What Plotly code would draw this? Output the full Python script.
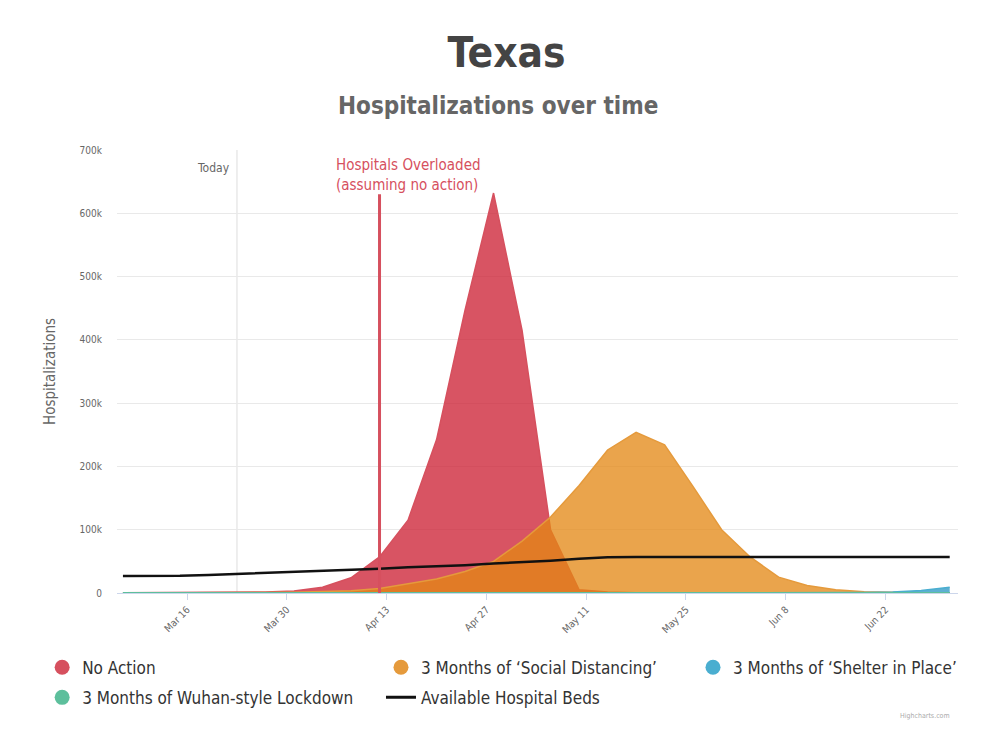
import plotly.graph_objects as go

# ---------------- data ----------------
dates = ["2020-03-07", "2020-03-11", "2020-03-15", "2020-03-19", "2020-03-23",
         "2020-03-27", "2020-03-31", "2020-04-04", "2020-04-08", "2020-04-12",
         "2020-04-16", "2020-04-20", "2020-04-24", "2020-04-28", "2020-05-02",
         "2020-05-06", "2020-05-10", "2020-05-14", "2020-05-18", "2020-05-22",
         "2020-05-26", "2020-05-30", "2020-06-03", "2020-06-07", "2020-06-11",
         "2020-06-15", "2020-06-19", "2020-06-23", "2020-06-27", "2020-07-01"]

no_action = [200, 300, 500, 700, 1000, 1500, 3000, 9000, 24000, 57000,
             115000, 242000, 447000, 632000, 415000, 100000, 5000, 1500, 500, 300,
             200, 100, 100, 100, 0, 0, 0, 0, 0, 0]

social_distancing = [0, 0, 100, 200, 400, 700, 1200, 2000, 3500, 7000,
                     14000, 22000, 34000, 50000, 82000, 120000, 170000, 226000, 254000, 234000,
                     168000, 100000, 57000, 25000, 12000, 5000, 2000, 1000, 500, 300]

shelter_in_place = [300, 300, 300, 300, 300, 300, 300, 300, 300, 300,
                    300, 300, 300, 300, 300, 300, 300, 300, 300, 300,
                    300, 300, 300, 300, 300, 300, 600, 1500, 4000, 9000]

wuhan_lockdown = [500, 500, 500, 500, 500, 500, 500, 500, 500, 500,
                  500, 500, 500, 500, 500, 500, 500, 500, 500, 500,
                  500, 500, 500, 500, 500, 500, 500, 500, 500, 500]

hospital_beds = [27000, 27000, 27200, 28500, 30000, 31500, 33000, 34500, 36500, 38500,
                 40500, 42000, 44000, 46500, 48500, 51000, 54000, 56500, 57000, 57000,
                 57000, 57000, 57000, 57000, 57000, 57000, 57000, 57000, 57000, 57000]

tick_dates = ["2020-03-16", "2020-03-30", "2020-04-13", "2020-04-27",
              "2020-05-11", "2020-05-25", "2020-06-08", "2020-06-22"]
tick_labels = ["Mar 16", "Mar 30", "Apr 13", "Apr 27", "May 11", "May 25", "Jun 8", "Jun 22"]

y_ticks = [0, 100000, 200000, 300000, 400000, 500000, 600000, 700000]
y_labels = ["0", "100k", "200k", "300k", "400k", "500k", "600k", "700k"]

today_date = "2020-03-23"
overloaded_date = "2020-04-12"
overloaded_top = 630000

# ---------------- style ----------------
FONT = "Liberation Sans Narrow, DejaVu Sans Condensed, Open Sans, sans-serif"
RED = "#d6505e"
RED_FILL = "rgba(204,32,52,0.77)"
ORANGE = "#e59a3c"
ORANGE_FILL = "rgba(228,135,20,0.76)"
BLUE = "#4aaed0"
BLUE_FILL = "rgba(40,150,195,0.75)"
GREEN = "#5dbf9c"
GREEN_FILL = "rgba(60,175,135,0.75)"

fig = go.Figure()

series = [
    ("No Action", no_action, RED, RED_FILL, "legend"),
    ("3 Months of ‘Social Distancing’", social_distancing, ORANGE, ORANGE_FILL, "legend2"),
    ("3 Months of ‘Shelter in Place’", shelter_in_place, BLUE, BLUE_FILL, "legend3"),
    ("3 Months of Wuhan-style Lockdown", wuhan_lockdown, GREEN, GREEN_FILL, "legend"),
]

for name, vals, col, fill, _ in series:
    fig.add_trace(go.Scatter(
        x=dates, y=vals, mode="lines", name=name, legendgroup=name,
        line=dict(color=col, width=1.5), fill="tozeroy", fillcolor=fill,
        showlegend=False, hoverinfo="x+y+name"))

fig.add_trace(go.Scatter(
    x=dates, y=hospital_beds, mode="lines", name="Available Hospital Beds",
    line=dict(color="#111111", width=2.5), showlegend=False))

# legend entries (circle markers like the original)
for name, vals, col, fill, lg in series:
    fig.add_trace(go.Scatter(
        x=[None], y=[None], mode="markers", name=name, legendgroup=name,
        marker=dict(symbol="circle", size=15, color=col), legend=lg))

fig.add_trace(go.Scatter(
    x=[None], y=[None], mode="lines", name="Available Hospital Beds",
    line=dict(color="#111111", width=3), legend="legend2"))

# plot lines
fig.add_shape(type="line", xref="x", yref="paper", x0=today_date, x1=today_date,
              y0=0, y1=1, line=dict(color="#e3e3e3", width=1.2), layer="below")
fig.add_shape(type="line", xref="x", yref="y", x0=overloaded_date, x1=overloaded_date,
              y0=0, y1=overloaded_top, line=dict(color=RED, width=3))

fig.add_annotation(x=today_date, y=0.959, xref="x", yref="paper", text="Today",
                   showarrow=False, xanchor="right", yanchor="middle", xshift=-5,
                   font=dict(family=FONT, size=12, color="#666666"))
fig.add_annotation(x=overloaded_date, y=0.943, xref="x", yref="paper",
                   text="Hospitals Overloaded<br>(assuming no action)",
                   showarrow=False, xanchor="left", yanchor="middle", xshift=-46, align="left",
                   font=dict(family=FONT, size=15, color=RED))

fig.add_annotation(x=0.453, y=1.099, xref="paper", yref="paper",
                   text="<b>Hospitalizations over time</b>", showarrow=False,
                   xanchor="center", yanchor="middle",
                   font=dict(family=FONT, size=24, color="#666666"))
fig.add_annotation(x=0.961, y=-0.278, xref="paper", yref="paper", text="Highcharts.com",
                   showarrow=False, xanchor="center", yanchor="middle",
                   font=dict(family=FONT, size=7, color="#aaaaaa"))

legend_common = dict(orientation="v", xanchor="left", yanchor="top", y=-0.128,
                     font=dict(family=FONT, size=17, color="#333333"),
                     bgcolor="rgba(0,0,0,0)", tracegroupgap=5, itemwidth=30)

fig.update_layout(
    width=1000, height=753,
    margin=dict(l=109, r=50, t=142, b=168),
    paper_bgcolor="white", plot_bgcolor="white",
    font=dict(family=FONT, color="#666666"),
    title=dict(text="<b>Texas</b>", x=0.4985, xref="container", xanchor="center",
               y=0.9416, yref="container", yanchor="middle",
               font=dict(family=FONT, size=42, color="#444444")),
    legend=dict(x=-0.089, **legend_common),
    legend2=dict(x=0.3139, **legend_common),
    legend3=dict(x=0.6849, **legend_common),
    xaxis=dict(type="date", range=["2020-03-06 04:00", "2020-07-02 04:00"],
               tickvals=tick_dates, ticktext=tick_labels, tickangle=-45,
               tickfont=dict(family=FONT, size=10, color="#666666"),
               ticks="outside", ticklen=6, tickcolor="#ccd6eb",
               showline=True, linecolor="#ccd6eb", linewidth=1,
               showgrid=False, zeroline=False),
    yaxis=dict(range=[0, 700000], tickvals=y_ticks, ticktext=y_labels,
               tickfont=dict(family=FONT, size=10, color="#666666"),
               showgrid=True, gridcolor="#e9e9e9", gridwidth=1, zeroline=False,
               ticklabelstandoff=14,
               title=dict(text="Hospitalizations", standoff=20,
                          font=dict(family=FONT, size=15, color="#666666"))),
)

fig.write_html("out.html")
